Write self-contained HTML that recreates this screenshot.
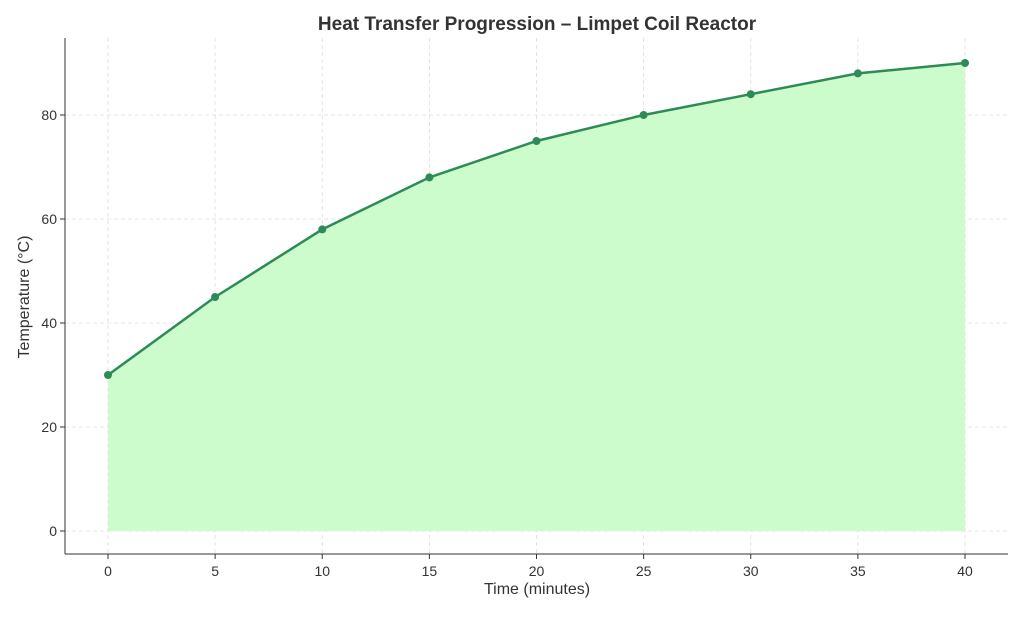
<!DOCTYPE html>
<html><head><meta charset="utf-8"><style>
body{margin:0;background:#fff;}
svg text{font-family:"Liberation Sans","DejaVu Sans",sans-serif;}
</style></head><body>
<svg id="chart" width="1024" height="614" xmlns="http://www.w3.org/2000/svg">
<text x="537" y="30" text-anchor="middle" font-size="19" font-weight="bold" fill="#333">Heat Transfer Progression – Limpet Coil Reactor</text>
<g id="grid"></g>
<g id="marks"></g>
<g id="axes"></g>
<text x="537" y="594" text-anchor="middle" font-size="16" fill="#333">Time (minutes)</text>
<text transform="translate(29,297) rotate(-90)" text-anchor="middle" font-size="16" fill="#333">Temperature (°C)</text>
</svg>
<script>
const times=[0,5,10,15,20,25,30,35,40];
const temps=[30,45,58,68,75,80,84,88,90];
const xTicks=[0,5,10,15,20,25,30,35,40];
const yTicks=[0,20,40,60,80];
const NS="http://www.w3.org/2000/svg";
const x=v=>108+v*(965-108)/40;
const y=v=>531-v*(531-115)/80;
function mk(t,a,p){const e=document.createElementNS(NS,t);for(const k in a)e.setAttribute(k,a[k]);p.appendChild(e);return e;}
const grid=document.getElementById('grid'),marks=document.getElementById('marks'),axes=document.getElementById('axes');
xTicks.forEach(t=>{
 const l=mk('line',{x1:x(t),x2:x(t),y1:38,y2:554,stroke:'#ddd','stroke-dasharray':'4,3','stroke-width':0.8},grid);
 
 const tk=mk('line',{x1:x(t),x2:x(t),y1:554,y2:559,stroke:'#333'},axes);
 
 const tx=mk('text',{x:x(t),y:576,'text-anchor':'middle','font-size':14,fill:'#333'},axes);tx.textContent=t;
 
});
yTicks.forEach(t=>{
 const l=mk('line',{x1:65,x2:1008,y1:y(t),y2:y(t),stroke:'#ddd','stroke-dasharray':'4,3','stroke-width':0.8},grid);
 
 const tk=mk('line',{x1:60,x2:65,y1:y(t),y2:y(t),stroke:'#333'},axes);
 
 const tx=mk('text',{x:57,y:y(t)+5,'text-anchor':'end','font-size':14,fill:'#333'},axes);tx.textContent=t;
 
});
let pts=times.map((t,i)=>x(t)+','+y(temps[i]));
const area=mk('polygon',{points:x(times[0])+','+y(0)+' '+pts.join(' ')+' '+x(times[times.length-1])+','+y(0),fill:'#ccfccc'},marks);

const line=mk('polyline',{points:pts.join(' '),fill:'none',stroke:'#2e8b57','stroke-width':2.5},marks);

times.forEach((t,i)=>{const c=mk('circle',{cx:x(t),cy:y(temps[i]),r:4,fill:'#2e8b57'},marks);
 });
const sp1=mk('line',{x1:65,x2:65,y1:38,y2:554,stroke:'#333','stroke-width':1},axes);

const sp2=mk('line',{x1:65,x2:1008,y1:554,y2:554,stroke:'#333','stroke-width':1},axes);

</script>
</body></html>
